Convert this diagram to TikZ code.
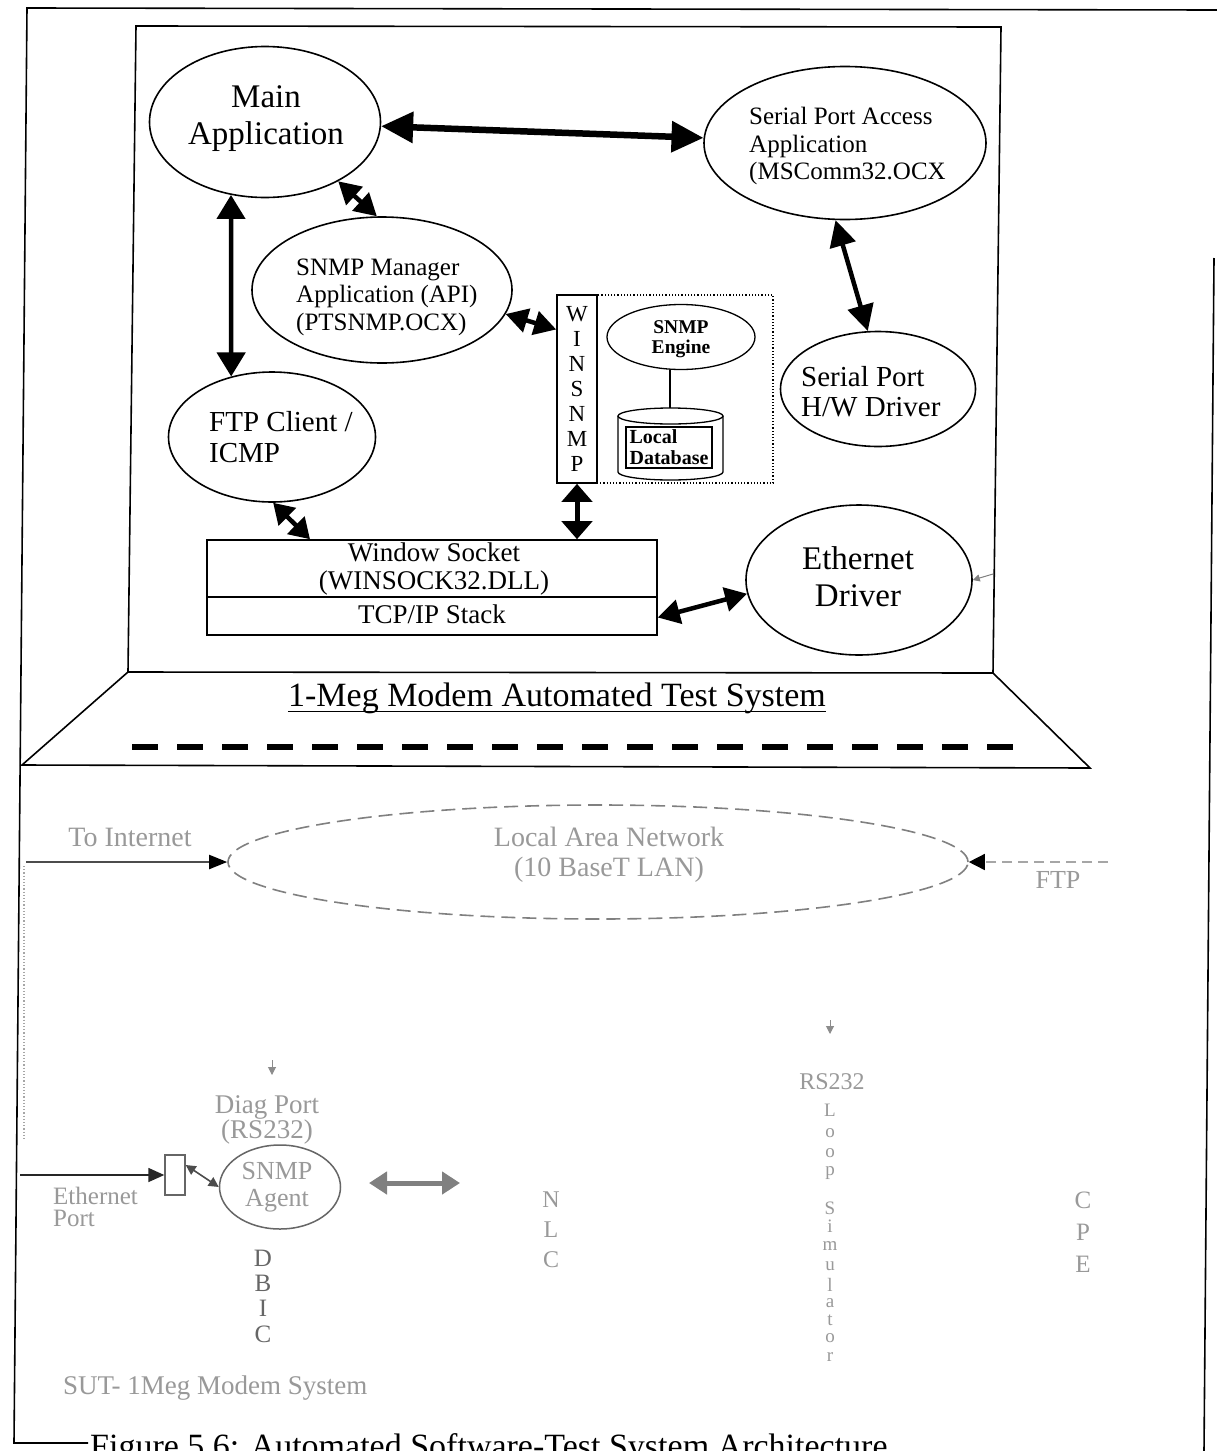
\documentclass[tikz,border=0pt]{standalone}
\usepackage{fontspec}
\setmainfont{Liberation Serif}
\usetikzlibrary{arrows.meta,shapes.geometric,calc}
\newcommand{\fsz}[2]{\fontsize{#1}{#2}\selectfont}
\begin{document}
\begin{tikzpicture}[x=1pt,y=-1pt,
  frame/.style={line width=1.6pt},
  ell/.style={draw,ellipse,line width=1.6pt,inner sep=0pt},
  dbl/.style={{Triangle[length=22pt,width=24pt]}-{Triangle[length=22pt,width=24pt]},line width=4.5pt},
  bigdbl/.style={{Triangle[length=32pt,width=30pt]}-{Triangle[length=32pt,width=30pt]},line width=6.5pt},
  fade/.style={black!40},
  faint/.style={black!60}]
\fill[white] (0,0) rectangle (1217,1451);
\useasboundingbox (0,0) rectangle (1217,1451);
\clip (0,0) rectangle (1217,1451);

% outer page frame
\draw[frame] (1217,10) -- (27,8) -- (14,1443) -- (88,1443);
\draw[frame] (1214,258) -- (1204,1451);

% monitor: screen and base
\draw[frame] (128,672) -- (136,26) -- (1001,27) -- (993,673);
\draw[frame] (128,672) -- (22,765) -- (1090,768) -- (993,673) -- cycle;
\node[font=\fsz{34}{40},anchor=base,inner sep=0pt] (title) at (557,706) {1-Meg Modem Automated Test System};
\draw[line width=1pt] ([yshift=-5pt]title.base west) -- ([yshift=-5pt]title.base east);
\draw[line width=6pt,dash pattern=on 26pt off 19pt] (132,747) -- (1013,747);

% software components
\node[ell,minimum width=231pt,minimum height=151pt] (mainapp) at (265,122) {};
\node[font=\fsz{33}{37},align=center] (mainapptxt) at (266,119) {Main\\Application};

\node[ell,minimum width=282pt,minimum height=153pt] (spa) at (845,143) {};
\node[font=\fsz{25}{27.5},align=left,anchor=west,inner sep=0pt] (spatxt) at (749,146) {Serial Port Access\\Application\\(MSComm32.OCX};

\node[ell,minimum width=260pt,minimum height=146pt] (snmpmgr) at (382,290) {};
\node[font=\fsz{25}{27.5},align=left,anchor=west,inner sep=0pt] (snmpmgrtxt) at (296,297) {SNMP Manager\\Application (API)\\(PTSNMP.OCX)};

\node[ell,minimum width=207pt,minimum height=130pt] (ftp) at (272,437) {};
\node[font=\fsz{29}{31},align=left,anchor=west,inner sep=0pt] (ftptxt) at (209,437) {FTP Client /\\ICMP};

\node[ell,minimum width=195pt,minimum height=115pt] (serhw) at (878,389) {};
\node[font=\fsz{29}{30},align=left,anchor=west,inner sep=0pt] (serhwtxt) at (801,392) {Serial Port\\H/W Driver};

\node[ell,minimum width=226pt,minimum height=150pt] (ethdrv) at (859,580) {};
\node[font=\fsz{33}{37},align=center] (ethdrvtxt) at (858,577) {Ethernet\\Driver};

% WinSNMP column and engine block
\node[draw,line width=1.6pt,minimum width=40pt,minimum height=188pt,inner sep=0pt,align=center,font=\fsz{23}{25}] (winsnmp) at (577,389) {W\\I\\N\\S\\N\\M\\P};
\node[draw,dotted,line width=1.2pt,minimum width=176pt,minimum height=188pt,inner sep=0pt] (enginebox) at (685,389) {};
\node[ell,line width=1.3pt,minimum width=148pt,minimum height=65pt] (engine) at (681,337) {};
\node[font=\bfseries\fsz{19.5}{20},align=center] (enginetxt) at (681,339) {SNMP\\Engine};

% local database cylinder
\coordinate (dbtop) at (670,408);
\draw[line width=1.3pt] (670.5,416) ellipse [x radius=52.5pt,y radius=8pt];
\draw[line width=1.3pt] (618,416) -- (618,472) arc[start angle=180,end angle=360,x radius=52.5pt,y radius=8pt] -- (723,416);
\node[draw,line width=1.3pt,minimum width=86pt,minimum height=41pt,inner sep=1pt,align=left,font=\bfseries\fsz{20}{21}] (dbrect) at (669,447.5) {Local\\Database};
\draw[line width=1.3pt] (dbtop |- engine.south) -- (dbtop);

% socket layer
\node[draw,line width=1.6pt,minimum width=450pt,minimum height=95pt,inner sep=0pt] (winsock) at (432,587.5) {};
\coordinate (split) at (0,597);
\draw[line width=1.6pt] (winsock.west |- split) -- (winsock.east |- split);
\node[font=\fsz{27}{28},align=center] (wstxt) at (434,569) {Window Socket\\(WINSOCK32.DLL)};
\node[font=\fsz{27}{28}] (tcptxt) at (432,614) {TCP/IP Stack};

% connectors
\draw[bigdbl] (mainapp) -- (spa);
\draw[dbl] (mainapp.-39) -- (snmpmgr.94);
\draw[{Triangle[length=24pt,width=28pt]}-{Triangle[length=24pt,width=28pt]},line width=4.5pt] (mainapp.245) -- (ftp.124);
\coordinate (winsnmpw) at ($(winsnmp.north west)!0.186!(winsnmp.south west)$);
\draw[dbl] (snmpmgr.-11) -- (winsnmpw);
\draw[{Triangle[length=26pt,width=26pt]}-{Triangle[length=26pt,width=26pt]},line width=4.5pt] (spa.263) -- (serhw.100);
\draw[{Triangle[length=20pt,width=24pt]}-{Triangle[length=20pt,width=24pt]},line width=4.5pt] (ftp.-89) -- ([xshift=-122pt]winsock.north);
\draw[{Triangle[length=18pt,width=30pt]}-{Triangle[length=18pt,width=30pt]},line width=5pt] (winsnmp.south) -- (winsnmp.south |- winsock.north);
\draw[dbl] ([yshift=-30pt]winsock.east) -- (ethdrv.187);
\coordinate (edmark) at (993,574);
\draw[black!50,line width=1pt,-{Triangle[length=7pt,width=7pt]}] (edmark) -- (ethdrv.east);

% local area network
\node[ellipse,draw=black!50,dash pattern=on 14pt off 7pt,line width=1.6pt,minimum width=740pt,minimum height=114pt,inner sep=0pt] (lan) at (598,862) {};
\node[fade,font=\fsz{28}{30},align=center] (lantxt) at (609,855) {Local Area Network\\(10 BaseT LAN)};
\coordinate (inetstart) at (26,862);
\draw[black!70,line width=2pt,-{Triangle[length=18pt,width=14pt,color=black]}] (inetstart) -- (lan.west);
\node[fade,font=\fsz{28}{30}] (inetlbl) at (130,837) {To Internet};
\coordinate (ftpend) at (1108,862);
\draw[black!35,dash pattern=on 10pt off 6pt,line width=1.5pt,-{Triangle[length=16pt,width=16pt,color=black]}] (ftpend) -- (lan.east);
\node[fade,font=\fsz{26}{28}] (ftplbl) at (1058,880) {FTP};
\coordinate (lnkA) at (24,866);
\coordinate (lnkB) at (24,1140);
\draw[black!35,dotted,line width=1.2pt] (lnkA) -- (lnkB);

% system under test
\coordinate (diagA) at (272,1060);
\coordinate (diagB) at (272,1075);
\draw[black!45,line width=1pt,-{Triangle[length=8pt,width=8pt]}] (diagA) -- (diagB);
\node[fade,font=\fsz{27}{24},align=center] (diag) at (267,1120) {Diag Port\\(RS232)};
\node[draw=black!60,line width=1.4pt,minimum width=20pt,minimum height=40pt,inner sep=0pt] (eport) at (175,1175) {};
\coordinate (ethin) at (20,1175);
\draw[black!85,line width=1.6pt,-{Triangle[length=16pt,width=14pt]}] (ethin) -- (eport.west);
\node[ellipse,draw=black!60,line width=1.5pt,minimum width=121pt,minimum height=84pt,inner sep=0pt] (agent) at (280,1187) {};
\node[fade,font=\fsz{26}{27},align=center] (agenttxt) at (277,1187) {SNMP\\Agent};
\draw[black!70,line width=1.6pt,{Triangle[length=10pt,width=10pt]}-{Triangle[length=10pt,width=10pt]}] ([yshift=10pt]eport.east) -- (agent.west);
\node[fade,font=\fsz{25}{22},align=left,anchor=west,inner sep=0pt] (eportlbl) at (53,1207) {Ethernet\\Port};
\coordinate (nlcA) at (369,1183);
\coordinate (nlcB) at (460,1183);
\draw[black!50,line width=5pt,{Triangle[length=18pt,width=22pt]}-{Triangle[length=18pt,width=22pt]}] (nlcA) -- (nlcB);
\node[black!60,font=\fsz{25}{25.3},align=center] (dbic) at (263,1296) {D\\B\\I\\C};
\node[fade,font=\fsz{24}{30},align=center] (nlc) at (551,1230) {N\\L\\C};

\coordinate (rsA) at (830,1020);
\coordinate (rsB) at (830,1034);
\draw[black!45,line width=1pt,-{Triangle[length=8pt,width=8pt]}] (rsA) -- (rsB);
\node[fade,font=\fsz{24}{26}] (rs) at (832,1082) {RS232};
\foreach \ch/\yy [count=\i] in {L/1110,o/1133,o/1153,p/1173,S/1208,i/1226,m/1246,u/1266,l/1285,a/1303,t/1320,o/1338,r/1357}
  \node[fade,font=\fsz{19}{19},inner sep=0pt] (loop\i) at (830,\yy) {\ch};
\foreach \ch/\yy [count=\i] in {C/1200,P/1232,E/1264}
  \node[fade,font=\fsz{25}{25},inner sep=0pt] (cpe\i) at (1083,\yy) {\ch};
\node[fade,font=\fsz{27}{30},anchor=west,inner sep=0pt] (sut) at (63,1388) {SUT- 1Meg Modem System};

% caption
\node[font=\fsz{34}{40},anchor=base west,inner sep=0pt] (caption) at (90,1457) {Figure 5.6: Automated Software-Test System Architecture};
\end{tikzpicture}
\end{document}
